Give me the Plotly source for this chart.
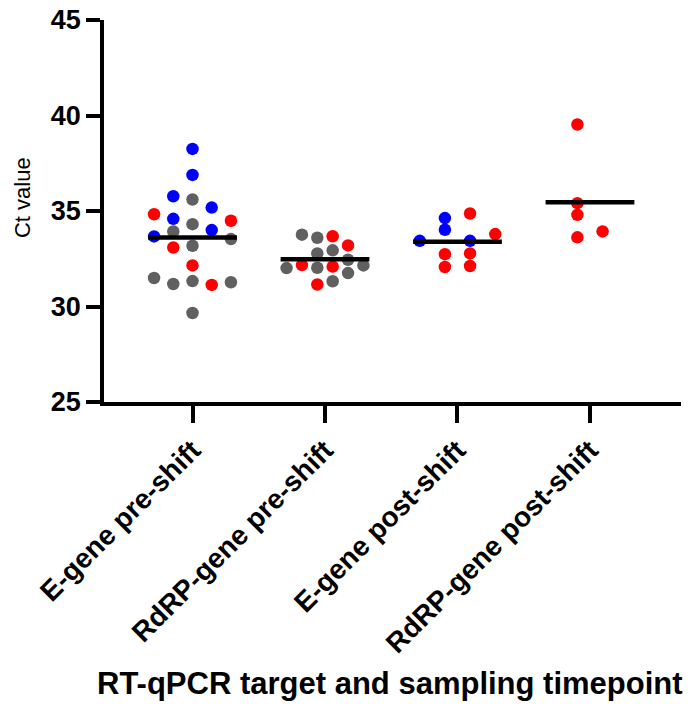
import numpy as np
import plotly.graph_objects as go

# ---------------- data ----------------
categories = ["E-gene pre-shift", "RdRP-gene pre-shift",
              "E-gene post-shift", "RdRP-gene post-shift"]

e_pre_values = [38.25, 36.89, 35.60, 34.31, 33.18, 32.15, 31.33, 29.66,
                35.77, 34.59, 33.93, 33.09, 31.18,
                35.18, 34.00, 31.13,
                34.83, 33.67, 31.49,
                34.49, 33.53, 31.27]
e_pre_class = ["B", "B", "G", "G", "G", "R", "G", "G",
               "B", "B", "G", "R", "G",
               "B", "B", "R",
               "R", "B", "G",
               "R", "G", "G"]

rdrp_pre_values = [33.60, 32.78, 32.03, 31.15, 31.32, 33.68, 32.09, 33.76,
                   32.17, 32.94, 33.20, 32.45, 32.01, 31.75, 32.15]
rdrp_pre_class = ["G", "G", "G", "R", "G", "R", "R", "G",
                  "R", "G", "R", "G", "G", "G", "G"]

e_post_values = [34.63, 34.02, 32.74, 32.07, 34.87, 33.44, 32.78, 32.12,
                 33.44, 33.79]
e_post_class = ["B", "B", "R", "R", "R", "B", "R", "R", "B", "R"]

rdrp_post_values = [39.53, 35.41, 34.80, 33.62, 33.93]
rdrp_post_class = ["R", "R", "R", "R", "R"]

y_ticks = [25, 30, 35, 40, 45]

# ---------------- style / layout settings ----------------
CLASS_COLORS = {"G": "#606060", "B": "#0000FF", "R": "#FF0000"}
FONT = "Liberation Sans, Arial, sans-serif"
COLLISION = 0.60          # vertical distance (y units) below which dots collide
SWARM_WIDTH = 0.58        # max total horizontal spread of a swarm (x units)
SWARM_STEP_CAP = 0.19     # max horizontal step between swarm columns
SWARM_FIRST_SIDE = [-1, 1, 1, 1]
MEAN_HALF_WIDTH = 0.335


def swarm_offsets(values, first_side):
    """Greedy lattice beeswarm: each point takes the column nearest the
    centre where no earlier point lies within COLLISION."""
    cols = []
    for i, v in enumerate(values):
        order = [0]
        for k in range(1, 10):
            order += [first_side * k, -first_side * k]
        for c in order:
            if all(not (cols[j] == c and abs(values[j] - v) < COLLISION)
                   for j in range(i)):
                cols.append(c)
                break
    cols = np.array(cols, dtype=float)
    lo, hi = cols.min(), cols.max()
    cols -= (lo + hi) / 2.0
    span = hi - lo
    step = SWARM_STEP_CAP if span == 0 else min(SWARM_STEP_CAP, SWARM_WIDTH / span)
    return cols * step


groups = [(e_pre_values, e_pre_class), (rdrp_pre_values, rdrp_pre_class),
          (e_post_values, e_post_class), (rdrp_post_values, rdrp_post_class)]

fig = go.Figure()
for gi, (vals, cls) in enumerate(groups):
    offs = swarm_offsets(vals, SWARM_FIRST_SIDE[gi])
    fig.add_trace(go.Scatter(
        x=gi + offs, y=vals, mode="markers",
        marker=dict(size=12.5, color=[CLASS_COLORS[c] for c in cls],
                    line=dict(width=0)),
        showlegend=False, hoverinfo="y"))

for gi, (vals, cls) in enumerate(groups):
    m = float(np.mean(vals))
    fig.add_trace(go.Scatter(
        x=[gi - MEAN_HALF_WIDTH, gi + MEAN_HALF_WIDTH], y=[m, m],
        mode="lines", line=dict(color="black", width=4.5),
        showlegend=False, hoverinfo="skip"))

fig.update_layout(
    width=693, height=704,
    margin=dict(l=104, r=12, t=20, b=302, autoexpand=False),
    plot_bgcolor="white", paper_bgcolor="white",
    font=dict(family=FONT, color="black"),
    xaxis=dict(range=[-0.668, 3.687], tickmode="array",
               tickvals=list(range(len(categories))), ticktext=categories,
               tickangle=-45, ticks="outside", ticklen=17, tickwidth=3.5,
               tickcolor="black", showline=True, linewidth=3.5,
               linecolor="black", showgrid=False, zeroline=False,
               automargin=False,
               tickfont=dict(family=FONT, size=28, color="black", weight="bold")),
    yaxis=dict(range=[25, 45], tickmode="array", tickvals=y_ticks,
               ticks="outside", ticklen=14, tickwidth=3.5, tickcolor="black",
               showline=True, linewidth=3.5, linecolor="black",
               showgrid=False, zeroline=False, automargin=False,
               tickfont=dict(family=FONT, size=27, color="black", weight="bold")),
    annotations=[
        dict(text="Ct value", textangle=-90, xref="paper", yref="paper",
             x=-0.142, y=0.534, xanchor="center", yanchor="middle",
             showarrow=False, font=dict(family=FONT, size=22, color="black")),
        dict(text="RT-qPCR target and sampling timepoint", xref="paper",
             yref="paper", x=0.495, y=-0.736, xanchor="center",
             yanchor="middle", showarrow=False,
             font=dict(family=FONT, size=31, color="black", weight="bold")),
    ],
)

fig.write_html("out.html",
               config={"displayModeBar": False},
               post_script="document.body.style.margin='0px';"
                           "document.body.style.overflow='hidden';")
